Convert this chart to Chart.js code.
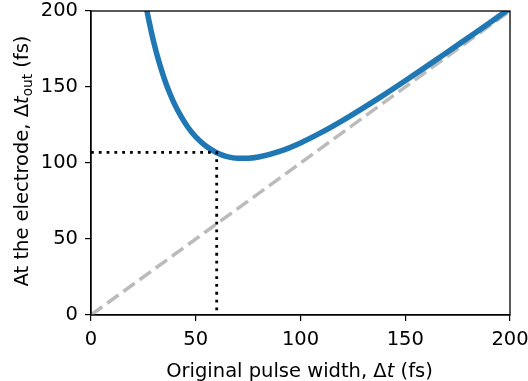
<!DOCTYPE html>
<html><head><meta charset="utf-8">
<script src="https://cdn.jsdelivr.net/npm/chart.js@4"></script>
<style>html,body{margin:0;padding:0;background:#fff}</style>
</head><body><canvas id="c" width="528" height="381"></canvas>
<script>
// Data
const pulseWidth = [26,27,28,30,32,34,36,38,40,43,46,50,55,60,65,70,75,80,90,100,110,120,130,140,150,160,170,180,190,200];
const outputWidth = [205.5,198.1,191.4,179.2,168.7,159.6,151.5,144.6,138.4,130.6,124.0,117.2,111.0,106.8,104.2,103.1,103.1,103.9,107.6,113.2,120.1,127.9,136.3,145.0,154.1,163.4,172.8,182.4,192.0,201.7];
const refX = [0, 200];
const refY = [0, 200];
const markX = [0, 60, 60];
const markY = [107, 107, 0];
const xTicks = [0, 50, 100, 150, 200];
const yTicks = [0, 50, 100, 150, 200];

const FONT = '"DejaVu Sans", sans-serif';
const FS = 19.5;

function pts(xs, ys){ return xs.map((x,i)=>({x:x, y:ys[i]})); }

const framePlugin = {
  id: 'frame',
  afterDraw(chart){
    const ctx = chart.ctx, a = chart.chartArea;
    ctx.save();
    ctx.strokeStyle = '#000';
    ctx.lineWidth = 1.3;
    ctx.strokeRect(a.left, a.top, a.right - a.left, a.bottom - a.top);
    const normal = FS + 'px ' + FONT, ital = 'italic ' + FS + 'px ' + FONT, sub = (FS*0.7) + 'px ' + FONT;
    ctx.fillStyle = '#000';
    ctx.textBaseline = 'alphabetic';
    ctx.textAlign = 'left';
    function drawParts(parts, cx, cy){
      let w = 0;
      parts.forEach(p=>{ ctx.font = p.f; w += ctx.measureText(p.t).width; });
      let x = cx - w/2;
      parts.forEach(p=>{ ctx.font = p.f; ctx.fillText(p.t, x, cy + (p.dy||0)); x += ctx.measureText(p.t).width; });
    }
    drawParts([{t:'Original pulse width, Δ', f:normal},{t:'t', f:ital},{t:' (fs)', f:normal}], 299.5, 377);
    ctx.save();
    ctx.translate(28, 161);
    ctx.rotate(-Math.PI/2);
    drawParts([{t:'At the electrode, Δ', f:normal},{t:'t', f:ital},{t:'out', f:sub, dy:4},{t:' (fs)', f:normal}], 0, 0);
    ctx.restore();
    ctx.restore();
  }
};

new Chart(document.getElementById('c'), {
  type: 'line',
  data: {
    datasets: [
      { data: pts(refX, refY), borderColor: '#bbbbbb', borderWidth: 3.5, borderDash: [14, 6], pointRadius: 0, fill: false, order: 3 },
      { data: pts(pulseWidth, outputWidth), borderColor: '#1f77b4', borderWidth: 5.5, pointRadius: 0, fill: false, cubicInterpolationMode: 'monotone', order: 2 },
      { data: pts(markX, markY), borderColor: '#000', borderWidth: 2.8, borderDash: [2.8, 5], pointRadius: 0, fill: false, order: 1 }
    ]
  },
  options: {
    responsive: false,
    animation: false,
    devicePixelRatio: 1,
    layout: { padding: { left: 0, right: 18, top: 11, bottom: 0 } },
    plugins: { legend: { display: false }, tooltip: { enabled: false } },
    scales: {
      x: {
        type: 'linear', min: 0, max: 200,
        afterBuildTicks(s){ s.ticks = xTicks.map(v=>({value:v})); },
        afterFit(s){ s.height = 66; s.paddingLeft = 0; s.paddingRight = 0; },
        grid: { display: true, drawOnChartArea: false, drawTicks: true, tickLength: 6, color: '#000', lineWidth: 1.2 },
        border: { display: true, color: '#000', width: 1.3 },
        ticks: { color: '#000', font: { family: FONT, size: FS }, padding: 7, maxRotation: 0 }
      },
      y: {
        type: 'linear', min: 0, max: 200,
        afterBuildTicks(s){ s.ticks = yTicks.map(v=>({value:v})); },
        afterFit(s){ s.width = 91; s.paddingTop = 0; s.paddingBottom = 0; },
        grid: { display: true, drawOnChartArea: false, drawTicks: true, tickLength: 6, color: '#000', lineWidth: 1.2 },
        border: { display: true, color: '#000', width: 1.3 },
        ticks: { color: '#000', font: { family: FONT, size: FS }, padding: 7 }
      }
    }
  },
  plugins: [framePlugin]
});
</script>
</body></html>
